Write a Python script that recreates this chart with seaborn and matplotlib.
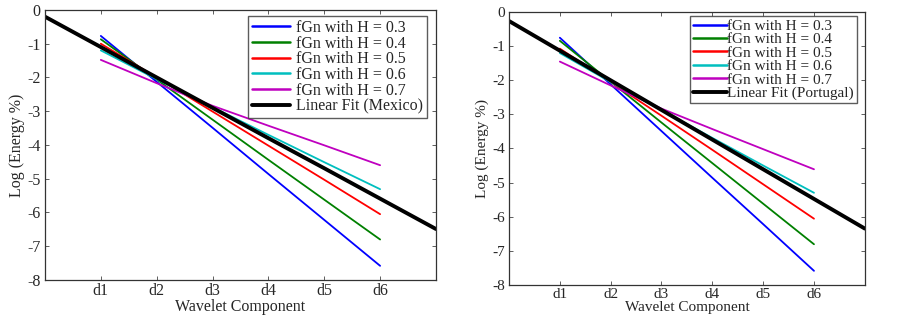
import matplotlib
matplotlib.use("Agg")
import matplotlib.pyplot as plt
import numpy as np
import pandas as pd
import seaborn as sns

# wavelet levels d1..d6 and the fit line evaluated at 0..7
LEVELS = [1, 2, 3, 4, 5, 6]
TICK_LABELS = ["d1", "d2", "d3", "d4", "d5", "d6"]
FIT_X = [0, 1, 2, 3, 4, 5, 6, 7]
H_LABELS = ["fGn with H = 0.3", "fGn with H = 0.4", "fGn with H = 0.5",
            "fGn with H = 0.6", "fGn with H = 0.7"]
COLORS = ["#0000ff", "#008000", "#ff0000", "#00bfbf", "#bf00bf"]

# left panel (Mexico)
mx_h03 = [-0.77, -2.13, -3.49, -4.86, -6.22, -7.58]
mx_h04 = [-0.87, -2.06, -3.25, -4.44, -5.62, -6.80]
mx_h05 = [-1.00, -2.00, -3.01, -4.02, -5.03, -6.05]
mx_h06 = [-1.20, -2.05, -2.88, -3.70, -4.51, -5.31]
mx_h07 = [-1.48, -2.17, -2.84, -3.43, -4.01, -4.60]
mx_fit = [-0.20, -1.10, -2.00, -2.90, -3.80, -4.69, -5.59, -6.49]

# right panel (Portugal)
pt_h03 = [-0.75, -2.12, -3.49, -4.86, -6.22, -7.59]
pt_h04 = [-0.84, -2.04, -3.24, -4.43, -5.62, -6.81]
pt_h05 = [-1.07, -2.05, -3.04, -4.04, -5.05, -6.06]
pt_h06 = [-1.20, -2.05, -2.87, -3.69, -4.50, -5.30]
pt_h07 = [-1.45, -2.15, -2.83, -3.43, -4.02, -4.61]
pt_fit = [-0.26, -1.13, -2.00, -2.87, -3.74, -4.61, -5.48, -6.35]

sns.set_style("white")
plt.rcParams["font.family"] = ["Liberation Serif", "DejaVu Serif"]


def panel(ax, series, fit, fit_label, leg_kw, fs, xlabelpad):
    rows = []
    for lab, vals in zip(H_LABELS, series):
        for x, v in zip(LEVELS, vals):
            rows.append({"level": x, "value": v, "series": lab})
    df = pd.DataFrame(rows)
    sns.lineplot(data=df, x="level", y="value", hue="series",
                 hue_order=H_LABELS, palette=COLORS, linewidth=1.3,
                 ax=ax, legend=False)
    fdf = pd.DataFrame({"x": FIT_X, "y": fit})
    sns.lineplot(data=fdf, x="x", y="y", color="black", linewidth=2.8,
                 ax=ax, legend=False)
    ax.set_xlim(0, 7)
    ax.set_ylim(-8, 0)
    ax.set_xticks(LEVELS)
    ax.set_xticklabels(TICK_LABELS)
    ax.set_yticks(np.arange(-8, 1, 1))
    ax.set_yticklabels([str(v) for v in range(-8, 1)])
    ax.tick_params(direction="in", length=3, width=0.6, labelsize=fs,
                   top=True, right=True, bottom=True, left=True, pad=3,
                   color="#444444")
    ax.tick_params(axis="x", pad=2)
    ax.set_xlabel("Wavelet Component", fontsize=fs, labelpad=xlabelpad)
    ax.set_ylabel("Log (Energy %)", fontsize=fs, labelpad=2)
    for s in ax.spines.values():
        s.set_visible(True)
        s.set_color("#333333")
        s.set_linewidth(0.9)
    handles = [plt.Line2D([], [], color=c, linewidth=1.8) for c in COLORS]
    handles.append(plt.Line2D([], [], color="black", linewidth=2.8))
    leg = ax.legend(handles, H_LABELS + [fit_label], loc="upper right",
                    frameon=True, fancybox=False, borderaxespad=0,
                    **leg_kw)
    leg.get_frame().set_edgecolor("#333333")
    leg.get_frame().set_linewidth(1.0)
    return leg


fig = plt.figure(figsize=(9.03, 3.2), dpi=100)
ax1 = fig.add_axes([0.0498, 0.125, 0.433, 0.844])
ax2 = fig.add_axes([0.5637, 0.11, 0.394, 0.852])

panel(ax1, [mx_h03, mx_h04, mx_h05, mx_h06, mx_h07], mx_fit,
      "Linear Fit (Mexico)",
      dict(bbox_to_anchor=(0.977, 0.978), fontsize=11.5, labelspacing=-0.02,
           handlelength=2.4, handletextpad=0.35, borderpad=0.25), 11.5, 0)
panel(ax2, [pt_h03, pt_h04, pt_h05, pt_h06, pt_h07], pt_fit,
      "Linear Fit (Portugal)",
      dict(bbox_to_anchor=(0.978, 0.985), fontsize=11, labelspacing=-0.02,
           handlelength=2.2, handletextpad=0.05, borderpad=0.2), 11, 0)

fig.savefig("out.png", dpi=100)
